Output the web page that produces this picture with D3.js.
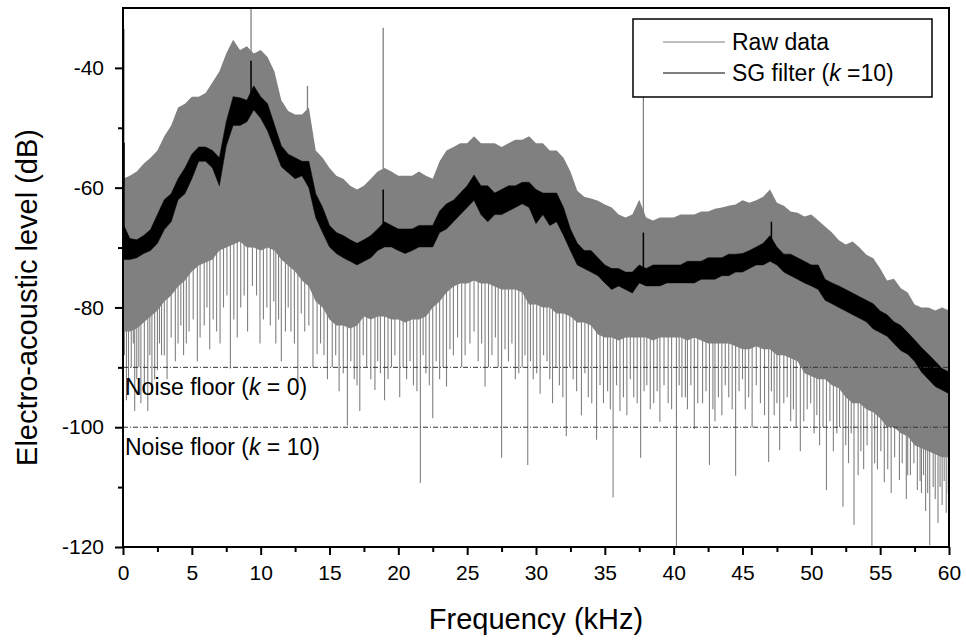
<!DOCTYPE html>
<html lang="en">
<head>
    <meta charset="UTF-8">
    <title>SG filter spectrum</title>
    <script src="https://d3js.org/d3.v7.min.js"></script>
    <style>
        body { margin: 0; background: #fff; }
        text { font-family: "Liberation Sans", Arial, sans-serif; }
    </style>
</head>
<body>

<script>
    // frequency grid (kHz) of the envelope readings
    freqKHz = [
        0, 0.5, 1, 1.5, 2, 2.5, 3, 3.5, 4, 4.5,
        5, 5.5, 6, 6.5, 7, 7.5, 8, 8.5, 9, 9.5,
        10, 10.5, 11, 11.5, 12, 12.5, 13, 13.5, 14, 14.5,
        15, 15.5, 16, 16.5, 17, 17.5, 18, 18.5, 19, 19.5,
        20, 20.5, 21, 21.5, 22, 22.5, 23, 23.5, 24, 24.5,
        25, 25.5, 26, 26.5, 27, 27.5, 28, 28.5, 29, 29.5,
        30, 30.5, 31, 31.5, 32, 32.5, 33, 33.5, 34, 34.5,
        35, 35.5, 36, 36.5, 37, 37.5, 38, 38.5, 39, 39.5,
        40, 40.5, 41, 41.5, 42, 42.5, 43, 43.5, 44, 44.5,
        45, 45.5, 46, 46.5, 47, 47.5, 48, 48.5, 49, 49.5,
        50, 50.5, 51, 51.5, 52, 52.5, 53, 53.5, 54, 54.5,
        55, 55.5, 56, 56.5, 57, 57.5, 58, 58.5, 59, 59.5,
        60
    ]

    // raw data: top and bottom of the dense band (dB)
    rawHigh = [
        -58.5, -58, -57.3, -56, -55, -53.8, -51.4, -49.6, -46.6, -46,
        -44.8, -44.8, -44.2, -42.4, -40.6, -37.6, -35.3, -37, -36.4, -37.6,
        -37, -38.2, -40.6, -45.4, -47.2, -47.8, -47.8, -46.6, -53.8, -55,
        -56.7, -58, -58.5, -59.7, -60.3, -59.7, -58.5, -57.3, -56.7, -57.3,
        -58, -58, -58, -57.3, -58, -58.5, -55.6, -53.8, -53.2, -52.6,
        -52.6, -51.4, -52.6, -52.6, -52.6, -53.2, -52.6, -52, -52, -51.4,
        -52.6, -52.6, -53.8, -53.8, -55, -57.3, -60.5, -61.5, -61.8, -62.2,
        -62.8, -63.3, -64.5, -65, -64.5, -62, -65, -65.5, -65, -65,
        -65, -64.5, -64.5, -64.5, -64, -64, -63.5, -63.3, -63, -62.8,
        -62.1, -62.5, -62.1, -61.5, -60.3, -62.5, -63, -64, -64.2, -64.8,
        -64.5, -65.5, -66.5, -67.5, -68.8, -69.5, -69, -70, -71.2, -71.8,
        -73.5, -75.5, -75.2, -76.8, -77.5, -79.5, -80, -80, -80.5, -80,
        -80.5
    ]

    rawLow = [
        -84, -84, -83.5, -82.5, -81.5, -80.5, -79, -78, -76.5, -75.5,
        -74, -73, -72.5, -72, -70.5, -70, -69.5, -69, -70, -70,
        -70.5, -70, -70.5, -72, -73, -74, -75.5, -76.5, -79, -80,
        -82, -83, -83, -83.5, -83, -81.5, -82, -81.5, -81.5, -82,
        -82, -82.5, -82, -82, -81.5, -80, -79, -77.5, -76.5, -76,
        -76, -75.5, -76, -76, -76.5, -77, -77, -77, -77.5, -79.5,
        -79.5, -80, -80, -81, -81, -81.5, -82.5, -82.5, -83, -84.5,
        -85, -85, -85.5, -85, -85, -85, -85, -85.5, -85, -85,
        -85, -85, -85.5, -85, -85.5, -86, -86, -86, -86, -86.5,
        -87, -87, -86.5, -87, -87, -88, -88, -88.5, -89, -91,
        -91.5, -92, -92, -93, -93.5, -95, -96, -96, -97, -97.5,
        -98.5, -100, -100, -101, -101.5, -103, -103.5, -104, -104.5, -105,
        -105
    ]

    // raw data: single deep dips below the band
    rawDipFreq = [
        0.25, 0.6, 0.85, 1.0, 1.3, 1.8, 2.1, 2.5, 2.8, 3.2, 3.8, 4.0, 4.4, 4.8, 5.4, 5.9, 6.3, 6.8, 7.3, 7.8,
        8.3, 8.8, 9.4, 10.2, 10.7, 11.1, 11.5, 12.2, 12.7, 13.2, 13.8, 14.1, 14.6, 15.2, 15.7, 16.3, 16.8, 17.2, 17.7, 18.3,
        18.7, 19.0, 19.5, 20.1, 20.6, 21.1, 21.6, 22.0, 22.5, 23.0, 23.5, 24.0, 24.6, 25.2, 25.8, 26.3, 26.8, 27.5, 28.0, 28.5,
        29.0, 29.4, 29.8, 30.3, 30.8, 31.2, 31.7, 32.2, 32.7, 33.3, 33.8, 34.4, 34.9, 35.2, 35.6, 36.1, 36.6, 37.1, 37.6, 38.3,
        38.8, 39.0, 39.6, 40.2, 40.6, 41.0, 41.5, 42.1, 42.6, 43.0, 43.5, 44.0, 44.5, 45.2, 45.7, 46.3, 46.9, 47.3, 47.7, 48.0,
        48.5, 48.9, 49.2, 49.7, 50.2, 50.6, 51.1, 51.6, 52.3, 52.7, 53.1, 53.4, 53.8, 54.4, 54.8, 55.3, 55.8, 56.4, 56.9, 57.2,
        57.7, 58.0, 58.3, 58.6, 59.2, 59.5, 59.8
    ]
    rawDipLevel = [
        -95.5, -90, -97.3, -92, -96, -97.3, -94, -90.5, -88, -92, -89, -86, -88, -84, -89, -83, -87, -84, -80, -90.2,
        -85, -78, -76.4, -82, -83, -86, -89, -84, -92.6, -84, -90, -87.8, -88, -90, -94, -99.7, -92, -97.3, -90, -93.8,
        -91, -95.5, -90, -95, -92, -93, -109.3, -91, -98.5, -92, -93.2, -88, -90, -86, -89, -93.2, -88, -105.1, -89, -92,
        -90, -106.3, -92, -94.4, -89, -96, -93, -101.5, -92, -98, -95, -102.1, -96, -94, -111.7, -97.3, -98, -95, -105.1, -97,
        -94, -99.1, -96, -120, -95, -97, -100.3, -96, -106.3, -99, -98, -95, -108.1, -97, -100, -96, -105.8, -98, -103.8, -96,
        -99, -100, -104, -97, -101, -103, -110.5, -104, -113.3, -106, -116.3, -108, -107, -120, -107, -109.2, -111, -108.8, -112, -108,
        -110.5, -111, -114, -119.7, -116, -113, -114.3
    ]

    // raw data: shorter dips that make the ragged lower fringe
    rawFringeFreq = [
        0.1, 0.4, 0.75, 1.15, 1.55, 1.95, 2.3, 2.65, 3.0, 3.5, 4.2, 4.6, 5.1, 5.6, 6.1, 6.55, 7.05, 7.55, 8.05, 8.55,
        9.05, 9.7, 9.95, 10.45, 10.95, 11.3, 11.8, 12.0, 12.45, 12.95, 13.5, 14.35, 14.85, 15.45, 16.0, 16.55, 17.0, 17.45, 18.0, 18.5,
        19.25, 19.75, 20.35, 20.85, 21.35, 21.8, 22.25, 22.75, 23.25, 23.75, 24.3, 24.85, 25.5, 26.05, 26.55, 27.05, 27.25, 27.75, 28.25, 28.75,
        29.2, 29.6, 30.05, 30.55, 31.0, 31.45, 31.95, 32.45, 32.95, 33.55, 34.05, 34.65, 35.4, 35.85, 36.35, 36.85, 37.35, 37.85, 38.05, 38.55,
        39.3, 39.85, 40.4, 40.85, 41.25, 41.75, 42.35, 42.85, 43.25, 43.75, 44.25, 44.75, 45.0, 45.45, 46.0, 46.6, 47.1, 47.5, 48.25, 48.7,
        49.45, 49.95, 50.4, 50.85, 51.35, 51.85, 52.05, 52.5, 52.9, 53.6, 54.05, 54.6, 55.05, 55.55, 56.05, 56.6, 57.0, 57.45, 57.9, 58.15,
        58.45, 58.85, 59.0, 59.35, 59.65, 59.95
    ]
    rawFringeLevel = [
        -88, -93, -86, -90, -94, -88, -92, -86, -88, -85, -83, -86, -82, -85, -80, -82, -86, -78, -82, -80,
        -84, -78, -86, -80, -79, -82, -84, -80, -86, -81, -83, -86, -92, -88, -91, -89, -93, -88, -92, -89,
        -92, -88, -90, -89, -94, -88, -93, -89, -90, -87, -85, -88, -84, -86, -90, -85, -90, -87, -86, -91,
        -88, -89, -91, -88, -92, -90, -95, -90, -94, -91, -96, -93, -97, -93, -95, -92, -96, -94, -93, -96,
        -93, -97, -93, -95, -93, -96, -94, -97, -95, -93, -97, -94, -92, -95, -93, -98, -94, -96, -95, -97,
        -99, -96, -98, -100, -99, -101, -100, -103, -101, -104, -103, -106, -104, -107, -105, -106, -108, -106, -109, -108,
        -111, -110, -112, -110, -109, -111
    ]

    // raw data: single tall peaks above the band
    rawPeakFreq = [0, 9.3, 13.4, 18.9, 37.8]
    rawPeakLevel = [-33.5, -30, -43, -33.3, -44.5]

    // SG filter (k = 10): top and bottom of the filtered trace (dB)
    sgHigh = [
        -66, -68.5, -68.7, -68, -67, -64.5, -62, -61, -58.5, -56.7,
        -54.4, -53.2, -53.2, -53.8, -55, -49, -44.8, -45, -45.4, -43,
        -44.8, -46, -49.5, -53, -54.4, -55, -55.6, -55.6, -61, -63.3,
        -66.3, -67.5, -68, -68.7, -69.3, -68.7, -68, -66.9, -65.7, -66.3,
        -66.9, -66.9, -66.9, -66.3, -66.3, -66.3, -63.9, -62.7, -62.1, -60.9,
        -59.7, -57.9, -59.7, -59.7, -60.9, -60.3, -59.7, -59.7, -59.1, -59.1,
        -60.3, -60.9, -60.9, -60.9, -63.3, -66.9, -69.3, -70.5, -70.5, -71.7,
        -72.9, -73.5, -73.5, -74.1, -74.1, -72.9, -73.5, -72.9, -72.9, -72.9,
        -72.9, -72.9, -72.3, -72.3, -72.3, -71.7, -71.7, -71.7, -71.1, -71.1,
        -71, -70.5, -69.9, -69.3, -68, -69.9, -71.1, -71.1, -71.7, -72.3,
        -72.9, -72.9, -75.3, -75.9, -76.4, -77, -77.6, -78.2, -78.8, -79.4,
        -80.6, -81.2, -82.4, -83, -84.2, -85.4, -86.7, -87.8, -89, -90.2,
        -90.8
    ]

    sgLow = [
        -72, -72, -71.7, -71, -70.5, -69.3, -67, -65.7, -62, -61,
        -58.5, -55.6, -55.6, -56.7, -59.7, -53, -49.6, -49.6, -49, -47,
        -48.4, -50.5, -53.5, -56.5, -57.5, -58.5, -58, -60, -65, -67.5,
        -69.9, -71, -71.7, -72.3, -72.9, -72.3, -71.7, -70.5, -69.9, -69.9,
        -70.5, -71, -70.5, -69.9, -69.9, -69.9, -67.5, -66.9, -65.7, -64.5,
        -63.3, -62.1, -64.5, -65.7, -64.5, -64.5, -63.9, -63.3, -62.7, -63.3,
        -66, -64.5, -66.3, -65.7, -68, -70.5, -72.9, -73.5, -74.1, -74.7,
        -75.9, -77, -76.4, -77, -77.6, -75.9, -76.4, -76.4, -76.4, -75.9,
        -75.9, -75.9, -75.9, -75.9, -75.3, -75.3, -75.3, -74.7, -74.7, -74.1,
        -74.1, -73.5, -72.9, -72.9, -72.3, -72.9, -74.1, -74.7, -75.3, -75.9,
        -76.4, -77, -78.8, -79.4, -80, -80.6, -81.2, -81.8, -82.4, -83.6,
        -84.2, -84.8, -86, -87.2, -87.8, -89, -90.8, -92, -93.2, -93.8,
        -94.4
    ]

    sgPeakFreq = [0, 9.3, 18.9, 37.8, 47.1]
    sgPeakLevel = [-52.5, -38.8, -60.3, -67.5, -65.7]

    noiseLevels = [-90, -100]
    noiseK = ["0", "10"]

    xTicks = [0, 5, 10, 15, 20, 25, 30, 35, 40, 45, 50, 55, 60]
    xMinor = [2.5, 7.5, 12.5, 17.5, 22.5, 27.5, 32.5, 37.5, 42.5, 47.5, 52.5, 57.5]
    yTicks = [-120, -100, -80, -60, -40]
    yMinor = [-110, -90, -70, -50]

    //chart dimensions
    w = 966
    h = 644
    margin = {top: 8, right: 17, bottom: 97, left: 123}
    width = w - margin.left - margin.right
    height = h - margin.top - margin.bottom

    svg = d3.select("body")
        .append("svg")
        .attr("width", w)
        .attr("height", h)
        .append("g")
        .attr("transform", "translate(" + margin.left + "," + margin.top + ")")

    x = d3.scaleLinear().domain([0, 60]).range([0, width])
    y = d3.scaleLinear().domain([-120, -30]).range([height, 0])

    svg.append("clipPath")
        .attr("id", "plot-clip")
        .append("rect")
        .attr("width", width)
        .attr("height", height)

    plot = svg.append("g").attr("clip-path", "url(#plot-clip)")

    rows = freqKHz.map((f, i) => ({f: f, hi: rawHigh[i], lo: rawLow[i], sgHi: sgHigh[i], sgLo: sgLow[i]}))
    nearest = f => rows[Math.round(f * 2)]

    // raw data band
    plot.append("path")
        .datum(rows)
        .attr("fill", "#808080")
        .attr("d", d3.area().x(d => x(d.f)).y0(d => y(d.lo)).y1(d => y(d.hi)))

    // every dip runs from inside the band down to its level
    dips = rawDipFreq.map((f, i) => ({f: f, v: rawDipLevel[i]}))
        .concat(rawFringeFreq.map((f, i) => ({f: f, v: rawFringeLevel[i]})))
    plot.selectAll("line.dip")
        .data(dips)
        .join("line")
        .attr("class", "dip")
        .attr("x1", d => x(d.f)).attr("x2", d => x(d.f))
        .attr("y1", d => y(nearest(d.f).sgLo)).attr("y2", d => y(d.v))
        .attr("stroke", "#808080")
        .attr("stroke-width", 1.1)

    peaks = rawPeakFreq.map((f, i) => ({f: f, v: rawPeakLevel[i]}))
    plot.selectAll("line.peak")
        .data(peaks)
        .join("line")
        .attr("class", "peak")
        .attr("x1", d => x(d.f) + (d.f === 0 ? 1 : 0)).attr("x2", d => x(d.f) + (d.f === 0 ? 1 : 0))
        .attr("y1", d => y(nearest(d.f).sgHi)).attr("y2", d => y(d.v))
        .attr("stroke", "#808080")
        .attr("stroke-width", 1.3)

    // noise floor lines
    svg.selectAll("line.noise")
        .data(noiseLevels)
        .join("line")
        .attr("class", "noise")
        .attr("x1", 0).attr("x2", width)
        .attr("y1", d => y(d)).attr("y2", d => y(d))
        .attr("stroke", "#333")
        .attr("stroke-width", 1)
        .attr("stroke-dasharray", "5,2,1,2")

    // SG filter trace
    plot.append("path")
        .datum(rows)
        .attr("fill", "#000")
        .attr("stroke", "#000")
        .attr("stroke-width", 0.5)
        .attr("d", d3.area().x(d => x(d.f)).y0(d => y(d.sgLo)).y1(d => y(d.sgHi)))

    sgPeaks = sgPeakFreq.map((f, i) => ({f: f, v: sgPeakLevel[i]}))
    plot.selectAll("line.sgpeak")
        .data(sgPeaks)
        .join("line")
        .attr("class", "sgpeak")
        .attr("x1", d => x(d.f) + (d.f === 0 ? 1 : 0)).attr("x2", d => x(d.f) + (d.f === 0 ? 1 : 0))
        .attr("y1", d => y((nearest(d.f).sgHi + nearest(d.f).sgLo) / 2)).attr("y2", d => y(d.v))
        .attr("stroke", "#000")
        .attr("stroke-width", 1.5)

    // noise floor labels
    noiseText = svg.selectAll("text.noise")
        .data(noiseLevels)
        .join("text")
        .attr("class", "noise")
        .attr("x", 2)
        .attr("y", d => y(d) + 28)
        .attr("font-size", 23)
    noiseText.append("tspan").text("Noise floor (")
    noiseText.append("tspan").attr("font-style", "italic").text("k")
    noiseText.append("tspan").text((d, i) => " = " + noiseK[i] + ")")

    // axes
    xAxis = svg.append("g")
        .attr("transform", "translate(0," + height + ")")
        .call(d3.axisBottom(x).tickValues(xTicks).tickFormat(d3.format("d")).tickSize(8).tickPadding(10))
    svg.append("g")
        .attr("transform", "translate(0," + height + ")")
        .call(d3.axisBottom(x).tickValues(xMinor).tickFormat("").tickSize(5))
    yAxis = svg.append("g")
        .call(d3.axisLeft(y).tickValues(yTicks).tickFormat(d3.format("d")).tickSize(8).tickPadding(11))
    svg.append("g")
        .call(d3.axisLeft(y).tickValues(yMinor).tickFormat("").tickSize(5))

    svg.selectAll(".domain").remove()
    svg.selectAll(".tick line").attr("stroke", "#000").attr("stroke-width", 2)
    svg.selectAll(".tick text")
        .attr("font-size", 21)
        .attr("fill", "#000")
        .style("font-family", "'Liberation Sans', Arial, sans-serif")
    yAxis.selectAll(".tick text").text(d => d < 0 ? "-" + Math.abs(d) : d)

    // frame
    svg.append("rect")
        .attr("width", width)
        .attr("height", height)
        .attr("fill", "none")
        .attr("stroke", "#000")
        .attr("stroke-width", 2)

    // legend
    legend = svg.append("g").attr("transform", "translate(" + (633 - margin.left) + "," + (19 - margin.top) + ")")
    legend.append("rect")
        .attr("width", 299)
        .attr("height", 78)
        .attr("fill", "#fff")
        .attr("stroke", "#000")
        .attr("stroke-width", 1.5)
    legendItems = [{label: "Raw data", color: "#808080"}, {label: "SG filter", color: "#000"}]
    legend.selectAll("line.key")
        .data(legendItems)
        .join("line")
        .attr("class", "key")
        .attr("x1", 30).attr("x2", 92)
        .attr("y1", (d, i) => 23 + i * 31).attr("y2", (d, i) => 23 + i * 31)
        .attr("stroke", d => d.color)
        .attr("stroke-width", 1)
    legendText = legend.selectAll("text.key")
        .data(legendItems)
        .join("text")
        .attr("class", "key")
        .attr("x", 99)
        .attr("y", (d, i) => 31 + i * 31)
        .attr("font-size", 23)
        .text(d => d.label)
    d3.select(legendText.nodes()[1]).text("SG filter (")
        .append("tspan").attr("font-style", "italic").text("k")
    d3.select(legendText.nodes()[1]).append("tspan").text(" =10)")

    // axis titles
    svg.append("text")
        .attr("x", width / 2)
        .attr("y", height + 82)
        .attr("text-anchor", "middle")
        .attr("font-size", 29)
        .text("Frequency (kHz)")

    svg.append("text")
        .attr("transform", "translate(" + (37 - margin.left) + "," + (height / 2 + 20) + ") rotate(-90)")
        .attr("text-anchor", "middle")
        .attr("font-size", 29)
        .attr("fill", "#000")
        .text("Electro-acoustic level (dB)")
</script>

</body>
</html>
